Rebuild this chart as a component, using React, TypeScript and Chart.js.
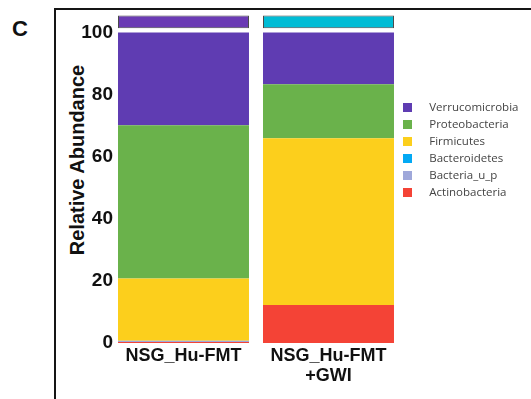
import React, { useEffect, useRef } from 'react';
import { Chart, registerables } from 'chart.js';

Chart.register(...registerables);

// ---- data ----
const groupIndex = [0, 1];
const xLabels = [['NSG_Hu-FMT'], ['NSG_Hu-FMT', '+GWI']];
const yTicks = [0, 20, 40, 60, 80, 100];

// stacked bottom -> top
const phyla = ['Actinobacteria', 'Bacteria_u_p', 'Bacteroidetes', 'Firmicutes', 'Proteobacteria', 'Verrucomicrobia'];
const actinobacteria = [0.3, 12.2];
const bacteriaUP = [0.4, 0];
const bacteroidetes = [0, 0];
const firmicutes = [20.1, 53.7];
const proteobacteria = [49.3, 17.4];
const verrucomicrobia = [29.9, 16.7];
const phylaValues = [actinobacteria, bacteriaUP, bacteroidetes, firmicutes, proteobacteria, verrucomicrobia];
const phylaColors = ['#f44336', '#9fa8da', '#03a9f4', '#fccf1c', '#6ab24b', '#5f3cb2'];

// group annotation strip above the bars
const stripGap = [1.3, 1.3];
const stripBand = [4.17, 4.17];
const stripColors = ['#6a3ab4', '#00bcd5'];

const Y_MAX = 105.47;

function squareImage(color: string) {
  const c = document.createElement('canvas');
  c.width = 9;
  c.height = 9;
  const g = c.getContext('2d')!;
  g.fillStyle = color;
  g.fillRect(0, 0, 9, 9);
  return c;
}

export default function App() {
  const ref = useRef<HTMLCanvasElement>(null);

  useEffect(() => {
    const phylaSets = phyla.map((name, i) => ({
      label: name,
      data: groupIndex.map((x, j) => ({ x, y: phylaValues[i][j] })),
      backgroundColor: phylaColors[i],
      borderWidth: 0,
      clip: false as any,
    }));
    const gapSet = {
      label: 'gap',
      data: groupIndex.map((x, j) => ({ x, y: stripGap[j] })),
      backgroundColor: 'rgba(0,0,0,0)',
      borderWidth: 0,
      clip: false as any,
    };
    const stripSet = {
      label: 'group',
      data: groupIndex.map((x, j) => ({ x, y: stripBand[j] })),
      backgroundColor: stripColors,
      borderColor: '#4a4a4a',
      borderWidth: 1,
      borderSkipped: false as any,
      clip: false as any,
    };

    const chart = new Chart(ref.current!, {
      type: 'bar',
      data: { datasets: [...phylaSets, gapSet, stripSet] as any },
      options: {
        responsive: false,
        animation: false,
        layout: { padding: { top: 15, right: 6, left: 0, bottom: 0 } },
        datasets: { bar: { categoryPercentage: 1, barPercentage: 0.9034 } },
        scales: {
          x: {
            type: 'linear',
            stacked: true,
            offset: false,
            min: -0.4586,
            max: 1.3897,
            grid: { display: false, drawTicks: false },
            border: { display: false },
            afterBuildTicks: (scale: any) => {
              scale.ticks = groupIndex.map((v) => ({ value: v }));
            },
            afterFit: (scale: any) => {
              scale.height = 56;
            },
            ticks: {
              autoSkip: false,
              maxRotation: 0,
              minRotation: 0,
              padding: 3.5,
              color: '#111',
              font: { family: '"Liberation Sans", Arial, sans-serif', size: 18, weight: 'bold', lineHeight: 1.111 },
              callback: (v: any) => xLabels[Number(v)] ?? '',
            },
          },
          y: {
            stacked: true,
            min: 0,
            max: Y_MAX,
            grid: { display: false, drawTicks: false },
            border: { display: false },
            afterBuildTicks: (scale: any) => {
              scale.ticks = yTicks.map((v) => ({ value: v }));
            },
            afterFit: (scale: any) => {
              scale.width = 117;
            },
            ticks: {
              padding: 4,
              color: '#111',
              font: { family: '"Liberation Sans", Arial, sans-serif', size: 19, weight: 'bold' },
            },
          },
        },
        plugins: {
          tooltip: { enabled: false },
          legend: {
            display: true,
            position: 'right',
            align: 'start',
            reverse: true,
            maxWidth: 140,
            title: { display: true, text: ' ', font: { size: 10 }, padding: { top: 69.5, bottom: 0 } },
            labels: {
              usePointStyle: true,
              pointStyleWidth: 33,
              padding: 5.5,
              color: '#444',
              font: { family: '"Open Sans", sans-serif', size: 11.5 },
              filter: (item: any) => item.datasetIndex < phyla.length,
              generateLabels: (c: any) =>
                Chart.defaults.plugins.legend.labels
                  .generateLabels(c)
                  .map((it: any) => ({ ...it, pointStyle: squareImage(it.fillStyle as string) })),
            },
          },
        },
      } as any,
    });
    return () => chart.destroy();
  }, []);

  return (
    <div style={{ position: 'fixed', left: 0, top: 0, width: 531, height: 399, overflow: 'hidden', background: '#fff' }}>
      <div
        style={{
          position: 'absolute', left: 54, top: 8, width: 520, height: 420,
          borderTop: '2px solid #151515', borderLeft: '2px solid #151515',
        }}
      />
      <div style={{ position: 'absolute', left: 12, top: 17, font: 'bold 22px "Liberation Sans", Arial, sans-serif', color: '#111', lineHeight: '24px' }}>
        C
      </div>
      <div
        style={{
          position: 'absolute', left: 76.5, top: 160,
          transform: 'translate(-50%, -50%) rotate(-90deg)',
          whiteSpace: 'nowrap', font: 'bold 20px "Liberation Sans", Arial, sans-serif', color: '#111', lineHeight: '22px',
        }}
      >
        Relative Abundance
      </div>
      <canvas ref={ref} width={531} height={399} style={{ position: 'absolute', left: 0, top: 0 }} />
    </div>
  );
}
